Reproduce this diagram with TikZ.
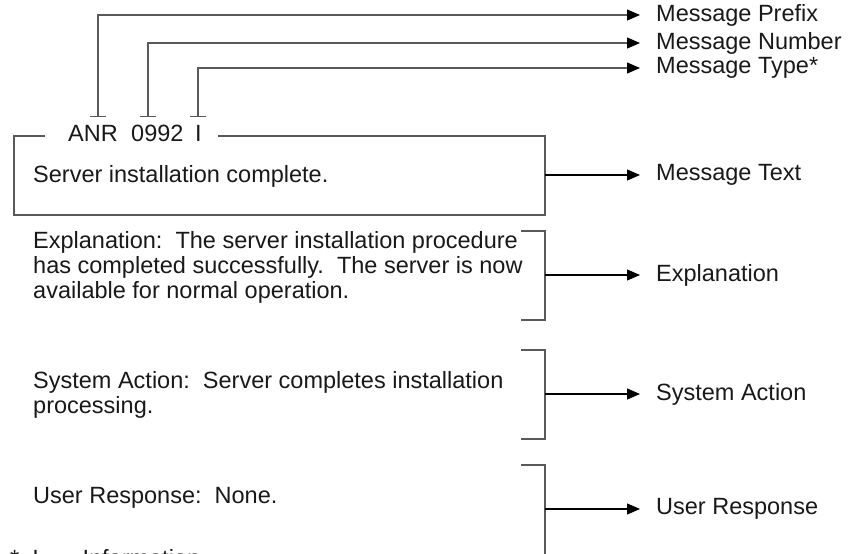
\documentclass[tikz,border=0pt]{standalone}
\usepackage{fontspec}
\setmainfont{Liberation Sans}
\usetikzlibrary{arrows.meta}
\begin{document}
\begin{tikzpicture}[x=1bp,y=-1bp,
font=\fontsize{23.5bp}{25bp}\selectfont,
frame/.style = {draw={black!65}, line width=1.1bp},
leader/.style = {draw={black!65}, line width=1.1bp, {Bar[width=16bp]}-{Triangle[length=13bp,width=11bp,color=black]}},
pointer/.style = {draw=black, line width=1.1bp, -{Triangle[length=13bp,width=11bp]}},
txt/.style = {anchor=base west, inner sep=0pt, align=left, text=black!90},
lbl/.style = {anchor=west, inner xsep=16bp, inner ysep=0pt, text=black!90}
]
\useasboundingbox (0,0) rectangle (852,554);
\clip (0,0) rectangle (852,554);
% message id
\node[txt] (hdrPrefix) at (68,142) {ANR};
\node[txt] (hdrNumber) at (131,142) {0992};
\node[txt] (hdrType) at (195,142) {I};
\coordinate (tPrefix) at (98,117);
\coordinate (tNumber) at (148,117);
\coordinate (tType) at (198,117);
\node[lbl] (lblPrefix) at (640,15) {Message Prefix};
\node[lbl] (lblNumber) at (640,43) {Message Number};
\node[lbl] (lblType) at (640,68) {Message Type*};
\draw[leader] (tPrefix) |- (lblPrefix.west);
\draw[leader] (tNumber) |- (lblNumber.west);
\draw[leader] (tType) |- (lblType.west);
% message text box
\draw[frame] (45,136) -| (14,215) -| (545,136) -- (218,136);
\node[txt] (msgText) at (33,183) {Server installation complete.};
\coordinate (boxR) at (545,175);
\node[lbl] (lblText) at (640,175) {Message Text};
\draw[pointer] (boxR) -- (lblText.west);
% explanation (base = last line)
\node[txt] (expText) at (33,299) {Explanation:\ \ The server installation procedure\\
has completed successfully.\ \ The server is now\\
available for normal operation.};
\draw[frame] (521,231) -| (545,320) -- (521,320);
\coordinate (expR) at (545,275);
\node[lbl] (lblExp) at (640,275) {Explanation};
\draw[pointer] (expR) -- (lblExp.west);
% system action
\node[txt] (sysText) at (33,413) {System Action:\ \ Server completes installation\\
processing.};
\draw[frame] (521,350) -| (545,439) -- (521,439);
\coordinate (sysR) at (545,394);
\node[lbl] (lblSys) at (640,394) {System Action};
\draw[pointer] (sysR) -- (lblSys.west);
% user response
\node[txt] (usrText) at (33,503) {User Response:\ \ None.};
\draw[frame] (521,465) -| (545,560);
\coordinate (usrR) at (545,509);
\node[lbl] (lblUsr) at (640,509) {User Response};
\draw[pointer] (usrR) -- (lblUsr.west);
% footnote
\node[txt] (note) at (10,566) {*\hspace{13bp}I\hspace{22bp}=\hspace{8bp}Information};
\end{tikzpicture}
\end{document}
